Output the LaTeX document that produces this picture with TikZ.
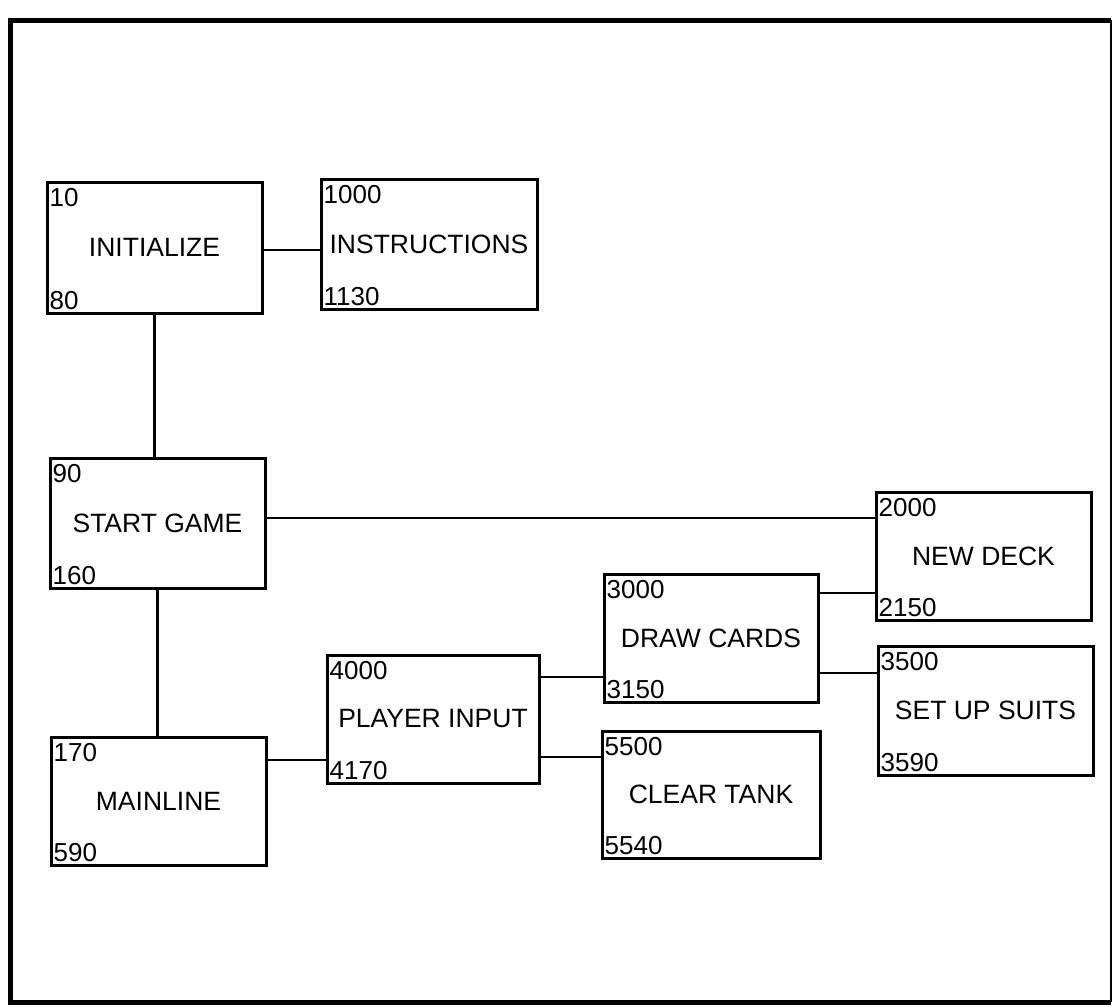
\documentclass[tikz,border=0pt]{standalone}
\usepackage{fontspec}
\setmainfont{Liberation Sans}
\begin{document}
\begin{tikzpicture}[x=1pt,y=-1pt,
  blk/.style={draw, line width=3pt, inner sep=0pt, font=\fontsize{26.5}{30}\selectfont},
  numtop/.style={anchor=north west, inner sep=0pt, xshift=4pt, yshift=-8pt, font=\fontsize{26}{30}\selectfont},
  numbot/.style={anchor=base west, inner sep=0pt, xshift=4pt, yshift=5pt, font=\fontsize{26}{30}\selectfont},
  conn/.style={line width=2.6pt}]
\useasboundingbox (0,0) rectangle (1113,1006);
\fill[white] (0,0) rectangle (1113,1006);
% frame
\draw[line width=5pt] (1111,20.5) -- (10.5,20.5) -- (10.5,1002) -- (1111,1002);
\draw[line width=1.5pt] (1111,20) -- (1111,1002);
% boxes
\node[blk, minimum width=215pt, minimum height=131pt] (init) at (154.5,247.5) {INITIALIZE};
\node[blk, minimum width=216pt, minimum height=130pt] (instr) at (429,244) {INSTRUCTIONS};
\node[blk, minimum width=215pt, minimum height=130pt] (start) at (157.5,523) {START GAME};
\node[blk, minimum width=215pt, minimum height=128pt] (deck) at (983.5,556) {NEW DECK};
\node[blk, minimum width=214pt, minimum height=128pt] (draw) at (711,638) {DRAW CARDS};
\node[blk, minimum width=215pt, minimum height=129pt] (suits) at (985.5,710.5) {SET UP SUITS};
\node[blk, minimum width=212pt, minimum height=128pt] (player) at (433,719) {PLAYER INPUT};
\node[blk, minimum width=218pt, minimum height=127pt] (clear) at (711,794.5) {CLEAR TANK};
\node[blk, minimum width=215pt, minimum height=128pt] (main) at (158.5,801) {MAINLINE};
% numbers
\node[numtop] (init-a) at (init.north west) {10};
\node[numbot] (init-b) at (init.south west) {80};
\node[numtop] (instr-a) at (instr.north west) {1000};
\node[numbot] (instr-b) at (instr.south west) {1130};
\node[numtop] (start-a) at (start.north west) {90};
\node[numbot] (start-b) at (start.south west) {160};
\node[numtop] (deck-a) at (deck.north west) {2000};
\node[numbot] (deck-b) at (deck.south west) {2150};
\node[numtop] (draw-a) at (draw.north west) {3000};
\node[numbot] (draw-b) at (draw.south west) {3150};
\node[numtop] (suits-a) at (suits.north west) {3500};
\node[numbot] (suits-b) at (suits.south west) {3590};
\node[numtop] (player-a) at (player.north west) {4000};
\node[numbot] (player-b) at (player.south west) {4170};
\node[numtop] (clear-a) at (clear.north west) {5500};
\node[numbot] (clear-b) at (clear.south west) {5540};
\node[numtop] (main-a) at (main.north west) {170};
\node[numbot] (main-b) at (main.south west) {590};
% connectors
\draw[conn] (init.east |- 0,250) -- (instr.west |- 0,250);
\draw[conn] (init.south) -- (init.south |- start.north);
\draw[conn] (start.south) -- (start.south |- main.north);
\draw[conn] (start.east |- 0,518) -- (deck.west |- 0,518);
\draw[conn] (draw.east |- 0,593) -- (deck.west |- 0,593);
\draw[conn] (draw.east |- 0,673) -- (suits.west |- 0,673);
\draw[conn] (player.east |- 0,677) -- (draw.west |- 0,677);
\draw[conn] (player.east |- 0,757) -- (clear.west |- 0,757);
\draw[conn] (main.east |- 0,760) -- (player.west |- 0,760);
\end{tikzpicture}
\end{document}
